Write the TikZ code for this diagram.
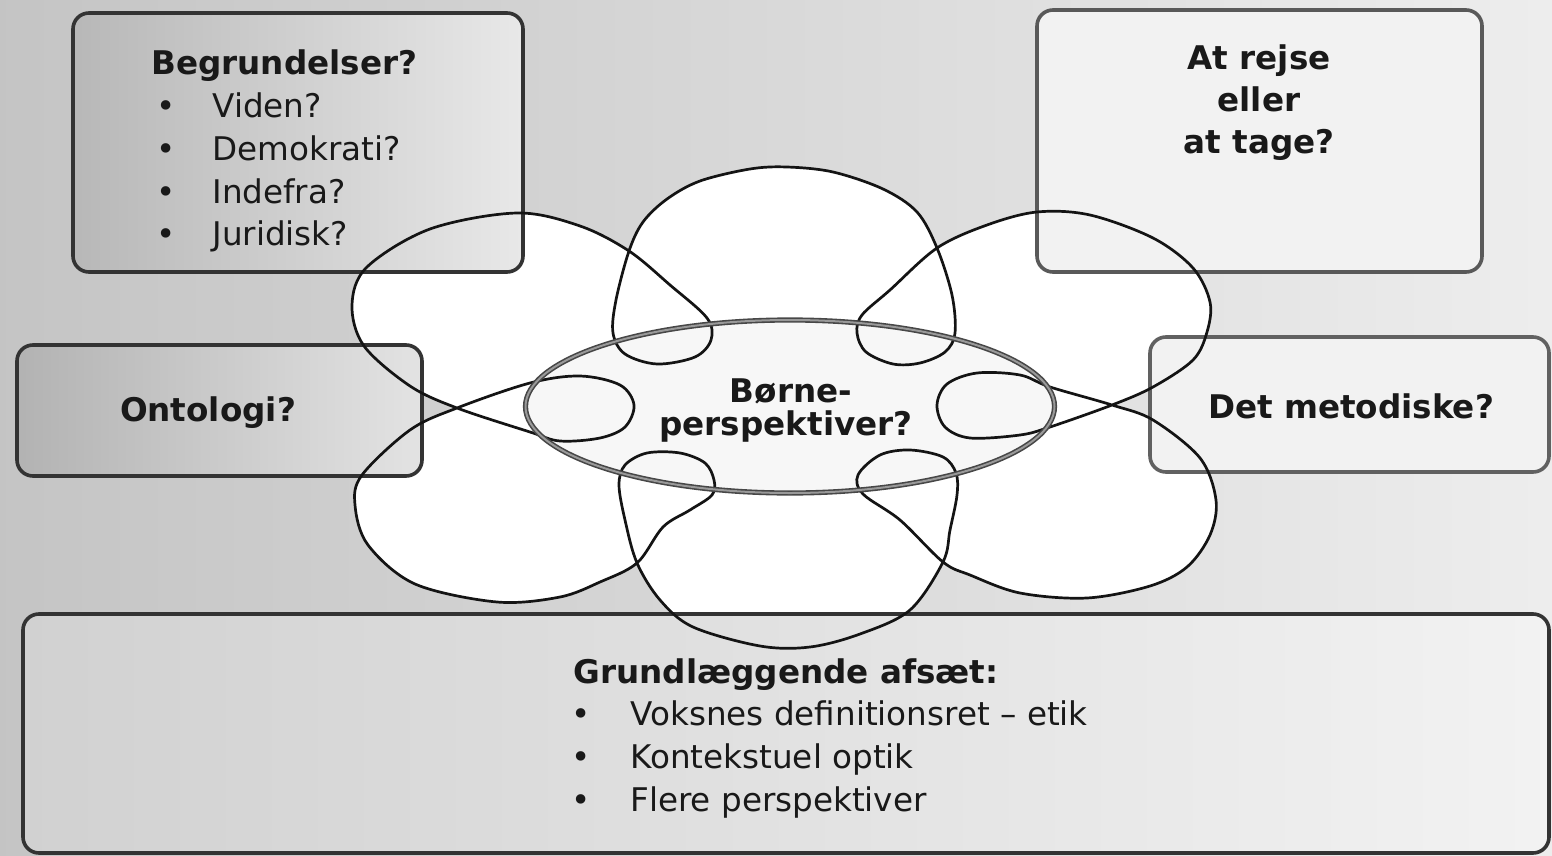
\documentclass[tikz,border=0pt]{standalone}
\usepackage{fontspec}
\setmainfont{DejaVu Sans}
\begin{document}
\begin{tikzpicture}[x=0.5pt,y=-0.5pt,
  boxbase/.style={rounded corners=8pt, line width=1.8pt, inner sep=0pt},
  txt/.style={inner sep=0pt, anchor=base west, text=black!90, font=\fontsize{16.3}{19}\selectfont},
  btxt/.style={txt, font=\fontsize{16.3}{19}\selectfont\bfseries},
  ctxt/.style={btxt, anchor=base},
  loopline/.style={line width=1.35pt, draw=black!92, line join=round},
]
\useasboundingbox (0,0) rectangle (1552,856);
% background
\fill[left color=black!23, right color=black!7] (0,0) rectangle (1552,856);

% crossing points of the rosette
\coordinate (CL) at (457,408);
\coordinate (U1) at (629,251);
\coordinate (U2) at (937,248);
\coordinate (CR) at (1112,405);
\coordinate (L2) at (943,562);
\coordinate (L1) at (637,563);

\def\rosette{plot[smooth cycle, tension=0.55] coordinates {
 (CL) (410,386) (364,346) (352,305) (367,267) (430,229) (517,213) (580,226)
 (U1) (670,285) (707,318) (711,340) (695,357) (657,364) (625,354) (613,333) (616,300)
 (U1) (643,222) (667,199) (700,181) (750,169) (787,167) (833,172) (883,189) (917,212)
 (U2) (952,295) (955,333) (945,352) (920,363) (893,364) (866,352) (857,333) (862,315) (890,290)
 (U2) (987,225) (1037,212) (1090,215) (1153,238) (1193,268) (1210,302) (1207,332) (1193,360) (1153,387)
 (CR) (1050,427) (1020,435) (970,438) (945,427) (937,405) (947,384) (977,373) (1020,375) (1050,387)
 (CR) (1153,420) (1200,458) (1216,500) (1210,535) (1187,567) (1150,586) (1087,598) (1020,593) (970,575)
 (L2) (900,520) (863,494) (858,475) (880,455) (910,450) (943,457) (956,473) (957,495) (950,530)
 (L2) (910,610) (860,634) (810,647) (760,646) (693,627) (660,600)
 (L1) (625,520) (619,485) (625,465) (647,453) (680,453) (705,463) (714,480) (712,495) (690,510) (663,527)
 (L1) (600,582) (560,597) (497,602) (415,584) (368,545) (355,505) (362,475) (410,430)
 (CL) (530,383) (580,376) (620,385) (634,405) (625,427) (600,438) (560,441) (530,432)
}}

% white interior of the rosette
\fill[white] \rosette;
\fill[black!3] (790,406.5) ellipse [x radius=264.5, y radius=86.5];

% boxes
\node[boxbase, draw=black!80, left color=black!28, right color=black!9,
      minimum width=225pt, minimum height=129.5pt] (tlbox) at (298,142.5) {};
\node[boxbase, draw=black!65, fill=black!5,
      minimum width=222.5pt, minimum height=131pt] (trbox) at (1259.5,141) {};
\node[boxbase, draw=black!80, left color=black!30, right color=black!11,
      minimum width=202.5pt, minimum height=65.5pt] (onbox) at (219.5,410.5) {};
\node[boxbase, draw=black!62, fill=black!5,
      minimum width=199.5pt, minimum height=67.5pt] (dmbox) at (1349.5,404.5) {};
\node[boxbase, draw=black!80, left color=black!18, right color=black!5,
      minimum width=763pt, minimum height=119.5pt] (btbox) at (786,733.5) {};

% rosette lines
\draw[loopline] \rosette;

% central ellipse (double grey line)
\draw[line width=2.6pt, draw=black!72] (790,406.5) ellipse [x radius=264.5, y radius=86.5];
\draw[line width=1.0pt, draw=black!40] (790,406.5) ellipse [x radius=264.5, y radius=86.5];

% texts: top-left box
\node[btxt] (tl0) at (151,75) {Begrundelser?};
\node[txt] (tlb1) at (156,118) {•};
\node[txt] (tlb2) at (156,161) {•};
\node[txt] (tlb3) at (156,203) {•};
\node[txt] (tlb4) at (156,245) {•};
\node[txt] (tl1) at (212,118) {Viden?};
\node[txt] (tl2) at (212,161) {Demokrati?};
\node[txt] (tl3) at (212,203) {Indefra?};
\node[txt] (tl4) at (212,245) {Juridisk?};

% top-right box
\node[ctxt] (tr1) at (1259,70) {At rejse};
\node[ctxt] (tr2) at (1259,112) {eller};
\node[ctxt] (tr3) at (1259,154) {at tage?};

% side boxes
\node[ctxt] (ont) at (208,421) {Ontologi?};
\node[ctxt] (met) at (1351,418) {Det metodiske?};

% centre
\node[ctxt] (c1) at (791,402) {Børne-};
\node[ctxt] (c2) at (786,435) {perspektiver?};

% bottom box
\node[btxt] (bt0) at (573,683) {Grundlæggende afsæt:};
\node[txt] (btb1) at (571,725) {•};
\node[txt] (btb2) at (571,768) {•};
\node[txt] (btb3) at (571,811) {•};
\node[txt] (bt1) at (630,725) {Voksnes definitionsret – etik};
\node[txt] (bt2) at (630,768) {Kontekstuel optik};
\node[txt] (bt3) at (630,811) {Flere perspektiver};
\end{tikzpicture}
\end{document}
